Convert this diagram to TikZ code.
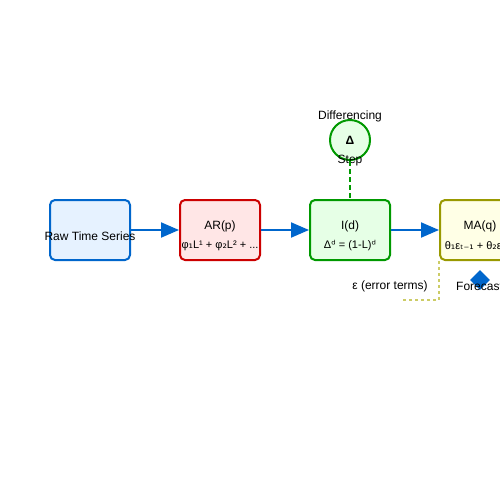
\documentclass[tikz,border=0pt]{standalone}
\usepackage{fontspec}
\setmainfont{Liberation Sans}
\newfontfamily\symf{DejaVu Sans}
\usetikzlibrary{arrows.meta,shapes.geometric}
\definecolor{cblue}{HTML}{0066CC}
\definecolor{fblue}{HTML}{E6F2FF}
\definecolor{cred}{HTML}{CC0000}
\definecolor{fred}{HTML}{FFE6E6}
\definecolor{cgreen}{HTML}{009900}
\definecolor{fgreen}{HTML}{E6FFE6}
\definecolor{colive}{HTML}{999900}
\definecolor{folive}{HTML}{FFFFE6}
\definecolor{cdot}{HTML}{CCCC66}
\tikzset{
  stagebox/.style={draw, line width=2pt, rounded corners=5pt, minimum width=80pt, minimum height=60pt, inner sep=0pt},
  lbl/.style={inner sep=0pt, font=\fontsize{12pt}{14pt}\selectfont},
  frm/.style={inner sep=0pt, font=\fontsize{11pt}{13pt}\selectfont},
  flow/.style={draw=cblue, line width=2pt, -{Triangle[length=18pt,width=15pt]}},
}
\begin{document}
\begin{tikzpicture}[x=1pt,y=-1pt]
\useasboundingbox (0,0) rectangle (500,500);
\clip (0,0) rectangle (500,500);
\fill[white] (0,0) rectangle (500,500);
% boxes
\node[stagebox, draw=cblue, fill=fblue] (raw) at (90,230) {};
\node[stagebox, draw=cred, fill=fred] (ar) at (220,230) {};
\node[stagebox, draw=cgreen, fill=fgreen] (int) at (350,230) {};
\node[stagebox, draw=colive, fill=folive] (ma) at (480,230) {};
% texts
\node[lbl] (rawt) at (90,236) {Raw Time Series};
\node[lbl] (art) at (220,226) {AR(p)};
\node[frm] (arf) at (220,246) {φ{\symf ₁}L¹ + φ{\symf ₂}L² + ...};
\node[lbl] (intt) at (350,226) {I(d)};
\node[frm] (intf) at (350,246) {Δ{\symf ᵈ} = (1-L){\symf ᵈ}};
\node[lbl] (mat) at (480,226) {MA(q)};
\node[frm] (maf) at (480,246) {θ{\symf ₁}ε{\symf ₜ₋₁} + θ{\symf ₂}ε{\symf ₜ₋₂}};
% arrows
\draw[flow] (raw.east) -- (ar.west);
\draw[flow] (ar.east) -- (int.west);
\draw[flow] (int.east) -- (ma.west);
% differencing
\node[circle, draw=cgreen, fill=fgreen, line width=2pt, minimum size=40pt, inner sep=0pt, font=\fontsize{12pt}{14pt}\selectfont\bfseries] (diff) at (350,140) {Δ};
\node[lbl] (difft) at (350,116) {Differencing};
\node[lbl] (diffs) at (350,161) {Step};
\draw[cgreen, line width=2pt, dash pattern=on 5pt off 3pt] (diff.south) -- (int.north);
% error terms
\coordinate (errend) at (403,300);
\draw[cdot, line width=2pt, dash pattern=on 3pt off 3pt] (ma.south west) |- (errend);
\node[lbl] (errt) at (390,286) {ε (error terms)};
% forecast
\node[diamond, fill=cblue, minimum size=20pt, inner sep=0pt] (fc) at (480,280) {};
\node[lbl, anchor=west] (fct) at (456,286) {Forecast};
\end{tikzpicture}
\end{document}
